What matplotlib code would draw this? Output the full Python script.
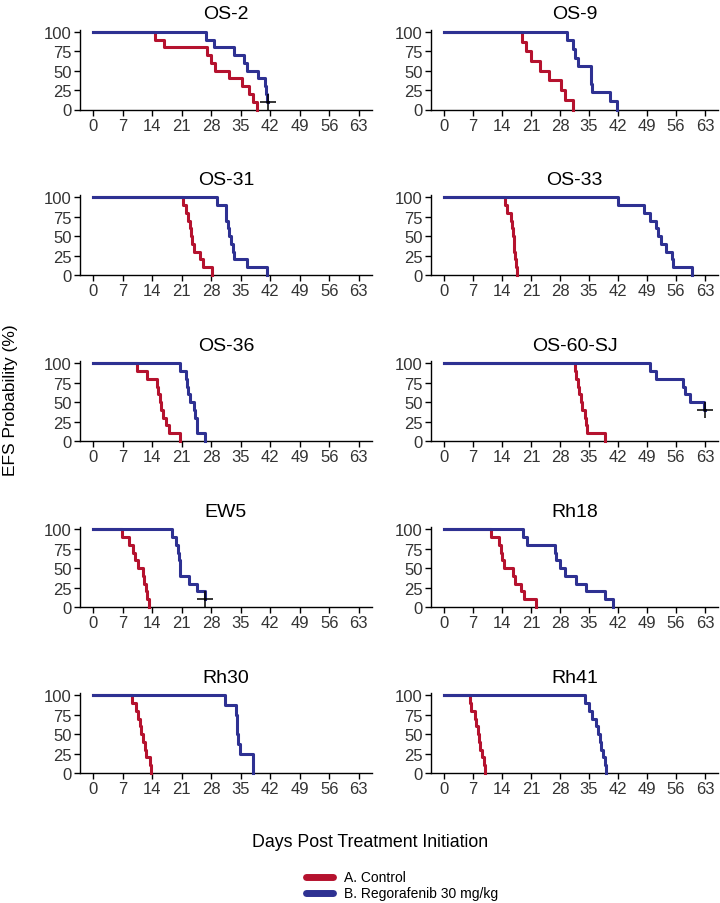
import matplotlib.pyplot as plt

plt.rcParams['font.family'] = ['Liberation Sans', 'DejaVu Sans']

# panel names, in reading order
models = ["OS-2", "OS-9", "OS-31", "OS-33", "OS-36", "OS-60-SJ", "EW5", "Rh18", "Rh30", "Rh41"]

# A. Control: event days and survival (%) after each step
ctrl_t = [
    [14.6, 16.9, 27.1, 27.9, 28.9, 32.3, 35.2, 37.0, 38.0, 38.9],
    [18.9, 19.7, 21.1, 23.1, 25.3, 28.3, 29.1, 31.1],
    [21.3, 22.1, 22.6, 22.9, 23.2, 23.5, 23.9, 25.3, 26.1, 28.1],
    [14.8, 15.2, 16.1, 16.3, 16.7, 16.9, 17.0, 17.2, 17.4, 17.7],
    [10.4, 12.7, 15.1, 15.4, 15.8, 16.1, 16.5, 17.3, 17.9, 20.7],
    [31.5, 31.9, 32.3, 32.7, 33.1, 33.4, 34.0, 34.3, 34.6, 38.8],
    [6.8, 8.4, 9.4, 10.0, 10.6, 11.7, 12.1, 12.5, 12.7, 13.3],
    [11.4, 13.3, 13.7, 14.0, 14.4, 16.6, 17.1, 18.7, 19.2, 22.1],
    [9.3, 10.2, 10.6, 11.0, 11.3, 11.7, 12.2, 12.5, 13.4, 13.7],
    [6.2, 6.6, 7.4, 7.8, 8.2, 8.4, 8.6, 9.1, 9.6, 10.0],
]
ctrl_s = [
    [90, 80, 70, 60, 50, 40, 30, 20, 10, 0],
    [87.5, 75, 62.5, 50, 37.5, 25, 12.5, 0],
    [90, 80, 70, 60, 50, 40, 30, 20, 10, 0],
    [90, 80, 70, 60, 50, 40, 30, 20, 10, 0],
    [90, 80, 70, 60, 50, 40, 30, 20, 10, 0],
    [90, 80, 70, 60, 50, 40, 30, 20, 10, 0],
    [90, 80, 70, 60, 50, 40, 30, 20, 10, 0],
    [90, 80, 70, 60, 50, 40, 30, 20, 10, 0],
    [90, 80, 70, 60, 50, 40, 30, 20, 10, 0],
    [90, 80, 70, 60, 50, 40, 30, 20, 10, 0],
]

# B. Regorafenib 30 mg/kg
reg_t = [
    [26.7, 28.7, 33.4, 35.8, 36.4, 39.0, 40.8, 41.1, 41.3, 41.5],
    [29.8, 31.1, 31.5, 32.3, 35.4, 35.6, 35.8, 40.0, 41.8],
    [29.3, 31.4, 31.6, 31.9, 32.2, 32.7, 33.2, 33.5, 36.4, 41.2],
    [42.0, 48.2, 49.8, 51.2, 51.6, 52.3, 53.7, 55.1, 55.4, 59.9],
    [20.5, 21.9, 22.2, 22.5, 22.9, 23.9, 24.2, 24.5, 24.7, 26.4],
    [49.8, 51.2, 57.7, 58.1, 59.3, 62.8, 63.0],
    [18.7, 19.7, 20.0, 20.3, 20.5, 20.7, 22.8, 24.7, 26.5, 26.6],
    [19.1, 20.1, 26.7, 27.1, 27.9, 29.3, 31.9, 34.2, 38.8, 40.8],
    [31.2, 33.8, 34.0, 34.2, 34.4, 34.8, 37.8],
    [34.1, 34.9, 35.8, 36.8, 37.2, 37.6, 38.0, 38.4, 38.8, 39.0],
]
reg_s = [
    [90, 80, 70, 60, 50, 40, 30, 20, 10, 10],
    [88.9, 77.8, 66.7, 55.6, 44.4, 33.3, 22.2, 11.1, 0],
    [90, 80, 70, 60, 50, 40, 30, 20, 10, 0],
    [90, 80, 70, 60, 50, 40, 30, 20, 10, 0],
    [90, 80, 70, 60, 50, 40, 30, 20, 10, 0],
    [90, 80, 70, 60, 50, 40, 40],
    [90, 80, 70, 60, 50, 40, 30, 20, 10, 10],
    [90, 80, 70, 60, 50, 40, 30, 20, 10, 0],
    [87.5, 75, 62.5, 50, 37.5, 25, 0],
    [90, 80, 70, 60, 50, 40, 30, 20, 10, 0],
]

# censored mice (day, survival %) on the regorafenib curve
censor = {"OS-2": (41.5, 10), "OS-60-SJ": (63.0, 40), "EW5": (26.6, 10)}

day_ticks = [0, 7, 14, 21, 28, 35, 42, 49, 56, 63]
pct_ticks = [0, 25, 50, 75, 100]

red = "#B5122E"
blue = "#2E3192"

W, H = 720, 904
fig = plt.figure(figsize=(W / 100, H / 100), dpi=100)

col_x = [(80, 292), (431, 287)]
row_top = [30.5, 196, 362, 528, 694]
ax_h = 80

for i, name in enumerate(models):
    r, c = divmod(i, 2)
    x0, w = col_x[c]
    ax = fig.add_axes([x0 / W, 1 - (row_top[r] + ax_h) / H, w / W, ax_h / H])
    ax.step([0] + ctrl_t[i], [100] + ctrl_s[i], where="post", color=red, lw=2.2, clip_on=False, zorder=3)
    ax.step([0] + reg_t[i], [100] + reg_s[i], where="post", color=blue, lw=2.2, clip_on=False, zorder=3)
    if name in censor:
        cx, cy = censor[name]
        ax.plot(cx, cy, marker="+", color="black", ms=11, mew=1.1, zorder=4, clip_on=False)
    ax.set_xlim(-3.15, 66.15)
    ax.set_ylim(0, 103)
    ax.set_xticks(day_ticks)
    ax.set_yticks(pct_ticks)
    ax.tick_params(labelsize=12, labelcolor="#333333", length=4, width=1, pad=2)
    for s in ["top", "right"]:
        ax.spines[s].set_visible(False)
    for s in ["left", "bottom"]:
        ax.spines[s].set_linewidth(1)
    ax.set_title(name, fontsize=14, pad=8)

fig.text(11 / W, 1 - 400 / H, "EFS Probability (%)", rotation=90, ha="center", va="center", fontsize=12.5)
fig.text(370 / W, 1 - 843 / H, "Days Post Treatment Initiation", ha="center", va="center", fontsize=12.8)

# legend
fig.lines.append(plt.Line2D([306 / W, 333 / W], [1 - 878 / H] * 2, transform=fig.transFigure,
                            color=red, lw=5, solid_capstyle="round"))
fig.lines.append(plt.Line2D([306 / W, 333 / W], [1 - 894 / H] * 2, transform=fig.transFigure,
                            color=blue, lw=5, solid_capstyle="round"))
fig.text(344 / W, 1 - 878 / H, "A. Control", ha="left", va="center", fontsize=10)
fig.text(344 / W, 1 - 894 / H, "B. Regorafenib 30 mg/kg", ha="left", va="center", fontsize=10)

fig.savefig("out.png", dpi=100)
